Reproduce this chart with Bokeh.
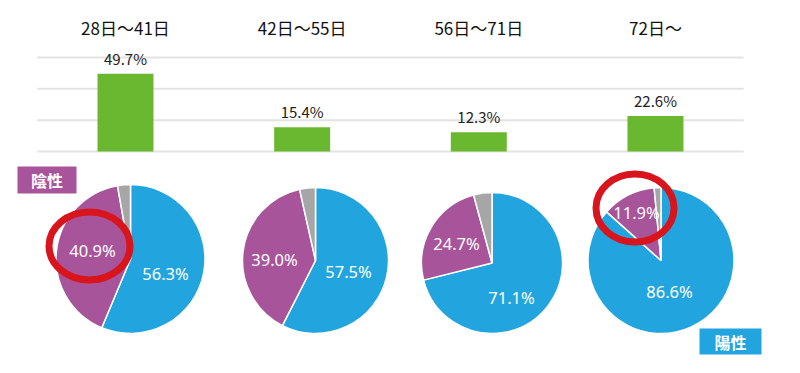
import math
from bokeh.plotting import figure
from bokeh.layouts import column
from bokeh.models import Range1d, ColumnDataSource
from bokeh.core.properties import value
from bokeh.embed import file_html
from bokeh.resources import INLINE

# ---------------- data ----------------
periods = ["28日～41日", "42日～55日", "56日～71日", "72日～"]
bar_values = [49.7, 15.4, 12.3, 22.6]
positive = [56.3, 57.5, 71.1, 86.6]   # 陽性 (blue)
negative = [40.9, 39.0, 24.7, 11.9]   # 陰性 (purple)
other = [round(100 - a - b, 1) for a, b in zip(positive, negative)]  # gray remainder
grid_ticks = [0, 20, 40, 60]

# ---------------- style ----------------
GREEN = "#6ab830"
BLUE = "#22a5de"
PURPLE = "#a8549a"
GRAY = "#a6a6a6"
RED = "#d8141c"
JP = "Noto Sans CJK JP"
NUM = "Noto Sans"

W = 800
BAR_H = 160
PIE_H = 213

# ---------------- bar chart ----------------
idx = list(range(len(periods)))
bar = figure(width=W, height=BAR_H, x_range=Range1d(-0.7075, 3.821),
             y_range=Range1d(-5.745, 96.38), output_backend="svg", toolbar_location=None,
             x_axis_location=None, y_axis_location=None, min_border=0)
bar.outline_line_color = None
bar.xgrid.grid_line_color = None
bar.ygrid.grid_line_color = None
bar.background_fill_color = None
bar.border_fill_color = None

bar.segment(x0=[-0.5] * len(grid_ticks), x1=[len(periods) - 0.5] * len(grid_ticks),
            y0=grid_ticks, y1=grid_ticks, line_color="#e3e3e3", line_width=2)

bsrc = ColumnDataSource(dict(x=idx, top=bar_values, cat=periods,
                             lab=[f"{v:.1f}%" for v in bar_values],
                             ty=[79.15] * len(periods)))
bar.vbar(x="x", top="top", bottom=0, width=0.317, source=bsrc,
         fill_color=GREEN, line_color=None)
bar.text(x="x", y="top", text="lab", source=bsrc, text_align="center",
         text_baseline="bottom", y_offset=-5, text_font=value(JP),
         text_font_size="15px", text_color="#222222")
bar.text(x="x", y="ty", text="cat", source=bsrc, text_align="center",
         text_baseline="middle", text_font=value(JP),
         text_font_size="17px", text_color="#111111")

# ---------------- pies ----------------
pie = figure(width=W, height=PIE_H, x_range=Range1d(0, W), y_range=Range1d(0, PIE_H),
             output_backend="svg", toolbar_location=None,
             x_axis_location=None, y_axis_location=None, min_border=0)
pie.outline_line_color = None
pie.xgrid.grid_line_color = None
pie.ygrid.grid_line_color = None
pie.background_fill_color = None
pie.border_fill_color = None

pie_cx = [130, 315, 491.5, 660.5]
pie_cy = [114.5, 113, 110.5, 113]
pie_r = [74.5, 73, 70.5, 73]
# label offsets (px) for blue / purple labels
blue_off = [(35, -14.5), (33, -11), (19.5, -34.5), (8.5, -31)]
purple_off = [(-38, 8.5), (-41, 1), (-35.5, 19.5), (-24.5, 48)]

for i in range(len(periods)):
    vals = [positive[i], negative[i], other[i]]
    tot = sum(vals)
    cols = [BLUE, PURPLE, GRAY]
    starts, ends = [], []
    c = 0.0
    for v in vals:
        starts.append(math.pi / 2 - 2 * math.pi * c / tot)
        c += v
        ends.append(math.pi / 2 - 2 * math.pi * c / tot)
    src = ColumnDataSource(dict(x=[pie_cx[i]] * 3, y=[pie_cy[i]] * 3, r=[pie_r[i]] * 3,
                                s=starts, e=ends, c=cols))
    pie.wedge(x="x", y="y", radius="r", start_angle="s", end_angle="e",
              direction="clock", fill_color="c", line_color="white",
              line_width=1.5, source=src)
    lsrc = ColumnDataSource(dict(
        x=[pie_cx[i] + blue_off[i][0], pie_cx[i] + purple_off[i][0]],
        y=[pie_cy[i] + blue_off[i][1], pie_cy[i] + purple_off[i][1]],
        t=[f"{positive[i]:.1f}%", f"{negative[i]:.1f}%"]))
    pie.text(x="x", y="y", text="t", source=lsrc, text_align="center",
             text_baseline="middle", text_font=value(NUM), text_font_size="16.5px",
             text_color="white")

# category boxes
pie.quad(left=[17, 699], right=[76, 761], bottom=[180, 19], top=[207, 45],
         fill_color=[PURPLE, BLUE], line_color=None)
pie.text(x=[46.5, 730], y=[193.5, 32], text=["陰性", "陽性"], text_align="center",
         text_baseline="middle", text_font=value(JP), text_font_size="16px",
         text_font_style="bold", text_color="white")

# red hand-drawn circles
pie.ellipse(x=[89, 634.5], y=[127.5, 165.5], width=[81, 78], height=[68, 68],
            fill_color=None, line_color=RED, line_width=7)

layout = column(bar, pie, spacing=0)
open("out.html", "w").write(file_html(layout, INLINE))
